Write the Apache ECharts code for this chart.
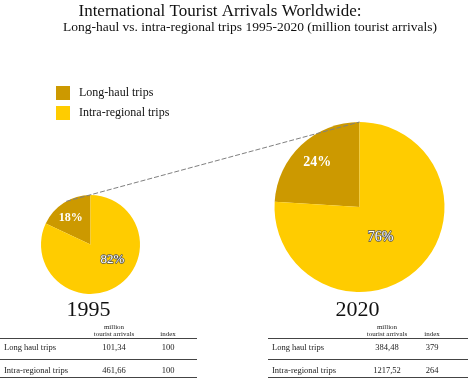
<!DOCTYPE html>
<html>
<head>
<meta charset="utf-8">
<script src="https://cdn.jsdelivr.net/npm/echarts@6/dist/echarts.min.js"></script>
<style>
  html, body { margin: 0; padding: 0; background: #fff; }
  #main { width: 469px; height: 378px; }
</style>
</head>
<body>
<div id="main"></div>
<script>
// data
const tripTypes = ['Long-haul trips', 'Intra-regional trips']
const years = ['1995', '2020']
const arrivals1995 = [101.34, 461.66]
const arrivals2020 = [384.48, 1217.52]
const index1995 = [100, 100]
const index2020 = [379, 264]
const tableRows = ['Long haul trips', 'Intra-regional trips']

const colors = ['#CC9900', '#FFCC00']
const serif = '"Liberation Serif", "DejaVu Serif", serif'

// layout of the two pies
const pie1 = { cx: 90.5, cy: 244.5, r: 49.5 }
const pie2 = { cx: 359.5, cy: 207, r: 85 }

const chart = echarts.init(document.getElementById('main'), null, { renderer: 'canvas' })

function pieData(values) {
  return tripTypes.map((name, i) => ({ name: name, value: values[i] }))
}

// small nudges so labels sit where the original puts them
const nudge1 = [[-5, -3], [7, -8]]
const nudge2 = [[-11, -11], [-10, -3]]

function pieSeries(p, values, nudge, sizes) {
  return {
    type: 'pie',
    center: [p.cx, p.cy],
    radius: p.r,
    startAngle: 90,
    clockwise: false,
    silent: true,
    emphasis: { disabled: true },
    labelLine: { show: false },
    itemStyle: { borderWidth: 0 },
    label: {
      show: true,
      position: 'inner',
      formatter: p => Math.round(p.percent) + '%',
      fontFamily: serif,
      color: '#fff'
    },
    labelLayout: params => ({ dx: nudge[params.dataIndex][0], dy: nudge[params.dataIndex][1] }),
    data: pieData(values).map((d, i) => Object.assign(d, {
      itemStyle: { color: colors[i] },
      label: i === 0
        ? { fontSize: sizes[0], fontWeight: 'bold', color: '#fff' }
        : { fontSize: sizes[1], color: '#fff', textBorderColor: '#555', textBorderWidth: 1.5 }
    }))
  }
}

// table drawn with graphic text
function fmt(v) {
  return v.toFixed(2).replace('.', ',')
}

function tableGraphic(x0, x1, valX, idxX, values, idx) {
  const els = []
  const lineStyle = { stroke: '#444', lineWidth: 1 }
  ;[338.5, 359.5, 377.5].forEach(y => {
    els.push({ type: 'line', shape: { x1: x0, y1: y, x2: x1, y2: y }, style: lineStyle })
  })
  const small = { fontFamily: serif, fontSize: 7, fill: '#222', align: 'center', verticalAlign: 'middle' }
  els.push({ type: 'text', x: valX, y: 327, style: Object.assign({ text: 'million' }, small) })
  els.push({ type: 'text', x: valX, y: 334, style: Object.assign({ text: 'tourist arrivals' }, small) })
  els.push({ type: 'text', x: idxX, y: 334, style: Object.assign({ text: 'index' }, small) })
  const rowY = [348, 371]
  tableRows.forEach((name, i) => {
    const base = { fontFamily: serif, fontSize: 8.5, fill: '#222', verticalAlign: 'middle' }
    els.push({ type: 'text', x: x0 + 4, y: rowY[i], style: Object.assign({ text: name, align: 'left' }, base) })
    els.push({ type: 'text', x: valX, y: rowY[i], style: Object.assign({ text: fmt(values[i]), align: 'center' }, base) })
    els.push({ type: 'text', x: idxX, y: rowY[i], style: Object.assign({ text: String(idx[i]), align: 'center' }, base) })
  })
  return els
}

// dashed connector from the small pie to the top of the big one
const a = 29.4 * Math.PI / 180
const connector = {
  type: 'line',
  z: 100,
  shape: {
    x1: pie1.cx - pie1.r * Math.sin(a), y1: pie1.cy - pie1.r * Math.cos(a),
    x2: pie2.cx, y2: pie2.cy - pie2.r
  },
  style: { stroke: '#808080', lineWidth: 1, lineDash: [5, 2] }
}

const yearLabels = [pie1, pie2].map((p, i) => ({
  type: 'text',
  x: p.cx - 2,
  y: 310,
  style: {
    text: years[i], fontFamily: serif, fontSize: 22, fill: '#111',
    align: 'center', verticalAlign: 'middle'
  }
}))

const titles = [{
  type: 'text', x: 220, y: 12,
  style: {
    text: 'International Tourist Arrivals Worldwide:',
    fontFamily: serif, fontSize: 17, fill: '#111', align: 'center', verticalAlign: 'middle'
  }
}, {
  type: 'text', x: 250, y: 27,
  style: {
    text: 'Long-haul vs. intra-regional trips 1995-2020 (million tourist arrivals)',
    fontFamily: serif, fontSize: 13.5, fill: '#111', align: 'center', verticalAlign: 'middle'
  }
}]

const option = {
  backgroundColor: '#ffffff',
  animation: false,
  legend: {
    orient: 'vertical',
    left: 56, top: 86,
    padding: 0,
    icon: 'rect',
    itemWidth: 14, itemHeight: 14,
    itemGap: 6,
    selectedMode: false,
    data: tripTypes,
    textStyle: { fontFamily: serif, fontSize: 12, color: '#111', padding: [0, 0, 0, 4] }
  },
  series: [
    pieSeries(pie1, arrivals1995, nudge1, [12, 13]),
    pieSeries(pie2, arrivals2020, nudge2, [14, 14])
  ],
  graphic: titles
    .concat([connector])
    .concat(yearLabels)
    .concat(tableGraphic(0, 197, 114, 168, arrivals1995, index1995))
    .concat(tableGraphic(268, 468, 387, 432, arrivals2020, index2020))
}

chart.setOption(option)
</script>
</body>
</html>
